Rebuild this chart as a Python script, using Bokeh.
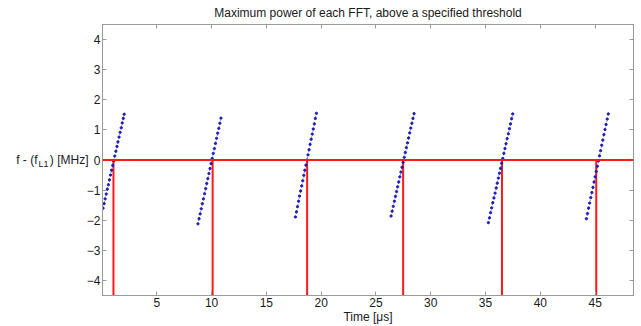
from bokeh.plotting import figure
from bokeh.models import Range1d, FixedTicker, LinearAxis, Span
from bokeh.embed import file_html
from bokeh.resources import INLINE

# ---- data ----
title_text = "Maximum power of each FFT, above a specified threshold"
x_label = "Time [\u03bcs]"
y_label_parts = ["f - (f", "L1", ") [MHz]"]   # "L1" is a subscript
x_ticks = [5, 10, 15, 20, 25, 30, 35, 40, 45]
y_ticks = [-4, -3, -2, -1, 0, 1, 2, 3, 4]
x_limits = [0.05, 48.5]
y_limits = [-4.5, 4.5]

seg1_t = [0.10, 0.20, 0.29, 0.39, 0.49, 0.59, 0.68, 0.78, 0.88, 0.98, 1.07,
          1.17, 1.27, 1.37, 1.46, 1.56, 1.66, 1.76, 1.85, 1.95, 2.03]
seg1_f = [-1.60, -1.45, -1.29, -1.13, -0.97, -0.82, -0.66, -0.50, -0.34, -0.18, -0.03,
          0.13, 0.29, 0.45, 0.60, 0.76, 0.92, 1.07, 1.23, 1.38, 1.52]
seg2_t = [8.76, 8.86, 8.96, 9.06, 9.16, 9.26, 9.36, 9.46, 9.56, 9.66, 9.76,
          9.86, 9.96, 10.06, 10.16, 10.26, 10.36, 10.46, 10.56, 10.66, 10.76, 10.86]
seg2_f = [-2.12, -1.95, -1.79, -1.62, -1.45, -1.29, -1.12, -0.95, -0.78, -0.62, -0.45,
          -0.28, -0.12, 0.05, 0.22, 0.38, 0.55, 0.72, 0.89, 1.05, 1.22, 1.39]
seg3_t = [17.65, 17.75, 17.84, 17.94, 18.03, 18.13, 18.23, 18.32, 18.42, 18.51, 18.61,
          18.71, 18.80, 18.90, 18.99, 19.09, 19.19, 19.28, 19.38, 19.47, 19.57]
seg3_f = [-1.89, -1.72, -1.55, -1.37, -1.20, -1.03, -0.86, -0.69, -0.51, -0.34, -0.17,
          0.00, 0.17, 0.34, 0.52, 0.69, 0.86, 1.03, 1.20, 1.38, 1.55]
seg4_t = [26.38, 26.48, 26.58, 26.68, 26.78, 26.88, 26.98, 27.08, 27.18, 27.28, 27.38,
          27.48, 27.58, 27.68, 27.78, 27.88, 27.98, 28.08, 28.18, 28.28, 28.38, 28.48]
seg4_f = [-1.86, -1.70, -1.54, -1.37, -1.21, -1.05, -0.89, -0.73, -0.56, -0.40, -0.24,
          -0.08, 0.09, 0.25, 0.41, 0.57, 0.73, 0.90, 1.06, 1.22, 1.38, 1.54]
seg5_t = [35.26, 35.36, 35.46, 35.56, 35.66, 35.77, 35.87, 35.97, 36.07, 36.17, 36.27,
          36.37, 36.47, 36.57, 36.67, 36.77, 36.87, 36.97, 37.08, 37.18, 37.28, 37.38, 37.48]
seg5_f = [-2.08, -1.92, -1.75, -1.59, -1.42, -1.26, -1.10, -0.93, -0.77, -0.60, -0.44,
          -0.28, -0.11, 0.05, 0.22, 0.38, 0.54, 0.71, 0.87, 1.04, 1.20, 1.37, 1.53]
seg6_t = [44.20, 44.30, 44.40, 44.50, 44.60, 44.70, 44.80, 44.90, 45.00, 45.10, 45.20,
          45.30, 45.40, 45.50, 45.60, 45.70, 45.80, 45.90, 46.00, 46.10, 46.20]
seg6_f = [-1.95, -1.78, -1.60, -1.43, -1.25, -1.08, -0.91, -0.73, -0.56, -0.38, -0.21,
          -0.03, 0.14, 0.31, 0.49, 0.66, 0.84, 1.01, 1.18, 1.36, 1.53]

threshold = 0.0
detect_times = [1.05, 10.10, 18.72, 27.48, 36.50, 45.10]

# ---- styling ----
FONT = "Liberation Sans"
FS = "12px"
AXIS_GRAY = "#9a9a9a"
TEXT = "#1a1a1a"
BLUE = "#1c1cb8"
RED = "#ff1a1a"
SUB_SHIFT = -0.14   # subscript baseline drop, in y-data units

p = figure(width=641, height=326, output_backend="svg", toolbar_location=None,
           x_range=Range1d(*x_limits), y_range=Range1d(*y_limits),
           min_border_left=102, min_border_right=8, min_border_top=24, min_border_bottom=29)
p.grid.visible = False
p.background_fill_color = "white"
p.border_fill_color = "white"
p.outline_line_color = AXIS_GRAY
p.outline_line_width = 1

p.title.text = title_text
p.title.align = "center"
p.title.vertical_align = "middle"
p.title.text_font = FONT
p.title.text_font_size = FS
p.title.text_font_style = "normal"
p.title.text_color = TEXT
p.title.standoff = 7
p.title.offset = 0

def style_axis(ax, show_labels):
    ax.axis_line_color = AXIS_GRAY
    ax.major_tick_line_color = AXIS_GRAY
    ax.major_tick_in = 4
    ax.major_tick_out = 0
    ax.minor_tick_line_color = None
    ax.major_label_text_font = FONT
    ax.major_label_text_font_size = FS if show_labels else "1px"
    ax.major_label_text_color = TEXT if show_labels else None
    ax.major_label_standoff = 2 if show_labels else 0

style_axis(p.xaxis[0], True)
style_axis(p.yaxis[0], True)
p.xaxis[0].ticker = FixedTicker(ticks=x_ticks)
p.yaxis[0].ticker = FixedTicker(ticks=y_ticks)
p.xaxis[0].axis_label = x_label
p.xaxis[0].axis_label_text_font = FONT
p.xaxis[0].axis_label_text_font_size = FS
p.xaxis[0].axis_label_text_font_style = "normal"
p.xaxis[0].axis_label_text_color = TEXT
p.xaxis[0].axis_label_standoff = 0

top_ax = LinearAxis(ticker=FixedTicker(ticks=x_ticks))
style_axis(top_ax, False)
p.add_layout(top_ax, "above")
right_ax = LinearAxis(ticker=FixedTicker(ticks=y_ticks))
style_axis(right_ax, False)
p.add_layout(right_ax, "right")

# horizontal y label, written as three stacked label-only axes on the left
# (closest to the frame first): ") [MHz]", subscript "L1", "f - (f"
for txt, tick, size, standoff in [(y_label_parts[2], threshold, FS, -5),
                                  (y_label_parts[1], threshold + SUB_SHIFT, "9px", -2),
                                  (y_label_parts[0], threshold, FS, -2)]:
    ax = LinearAxis(ticker=FixedTicker(ticks=[tick]),
                    major_label_overrides={tick: txt})
    ax.axis_line_color = None
    ax.major_tick_line_color = None
    ax.minor_tick_line_color = None
    ax.major_tick_in = 0
    ax.major_tick_out = 0
    ax.major_label_standoff = standoff
    ax.major_label_text_font = FONT
    ax.major_label_text_font_size = size
    ax.major_label_text_color = TEXT
    p.add_layout(ax, "left")

# threshold line and detection markers
p.add_layout(Span(location=threshold, dimension="width", line_color=RED, line_width=2))
p.segment(x0=detect_times, y0=[threshold] * len(detect_times),
          x1=detect_times, y1=[y_limits[0]] * len(detect_times),
          line_color=RED, line_width=2)

# chirp segments
seg_t = [seg1_t, seg2_t, seg3_t, seg4_t, seg5_t, seg6_t]
seg_f = [seg1_f, seg2_f, seg3_f, seg4_f, seg5_f, seg6_f]
p.multi_line(xs=seg_t, ys=seg_f, line_color=BLUE, line_width=1, line_dash="1 2", line_alpha=0.6)
for t, f in zip(seg_t, seg_f):
    p.scatter(x=t, y=f, size=2.3, color=BLUE)

open("out.html", "w").write(file_html(p, INLINE))
